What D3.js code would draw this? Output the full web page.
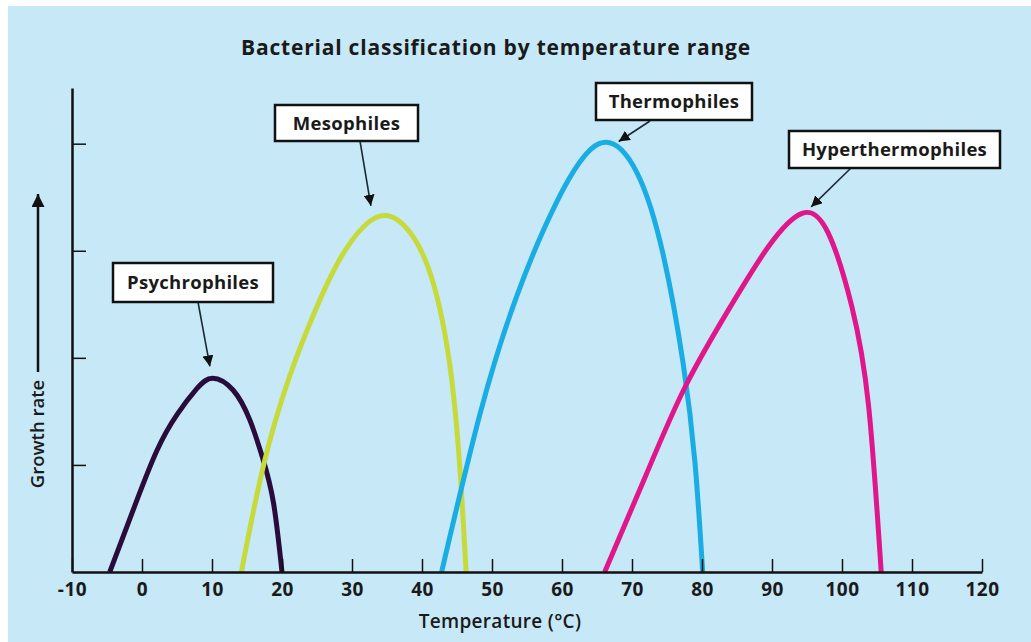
<!DOCTYPE html>
<html>
<head>
<meta charset="utf-8">
<script src="https://cdn.jsdelivr.net/npm/d3@7"></script>
<style>
  body { margin: 0; background: #ffffff; }
  text { font-family: "Open Sans", "Noto Sans", sans-serif; }
</style>
</head>
<body>
<div id="viz"></div>
<script>
// temperature (°C), relative growth rate
const psychrophiles = [[-4.6,0],[-1.2,0.59],[2.1,1.13],[5.0,1.47],[7.8,1.71],[10.1,1.81],[13.0,1.70],[15.4,1.42],[17.3,1.05],[18.8,0.64],[20.0,0]]
const mesophiles = [[14.2,0],[17.3,0.98],[21.1,1.83],[25.0,2.48],[28.8,2.98],[33.8,3.32],[38.3,3.17],[41.6,2.70],[44.0,1.92],[45.4,0.98],[46.3,0]]
const thermophiles = [[42.8,0],[48.3,1.48],[53.5,2.57],[59.2,3.45],[65.3,4.0],[70.7,3.73],[74.5,2.95],[77.3,1.95],[79.0,1.02],[80.1,0]]
const hyperthermophiles = [[66.1,0],[71.9,0.89],[77.6,1.73],[83.8,2.45],[89.5,3.04],[94.3,3.35],[98.0,3.17],[101.4,2.48],[103.8,1.55],[105.6,0]]

const seriesNames = ["Psychrophiles", "Mesophiles", "Thermophiles", "Hyperthermophiles"]
const seriesColors = ["#2a0c3c", "#c6da3c", "#19ade4", "#e0168b"]
const xTicks = [-10, 0, 10, 20, 30, 40, 50, 60, 70, 80, 90, 100, 110, 120]
const yTicks = [1, 2, 3, 4]

const width = 1031
const height = 642

const svg = d3.select("#viz").append("svg")
  .attr("width", width)
  .attr("height", height)

svg.append("rect")
  .attr("x", 8).attr("y", 6)
  .attr("width", width - 8).attr("height", height - 6)
  .attr("fill", "#c6e8f7")

const x = d3.scaleLinear().domain([-10, 120]).range([72, 982])
const y = d3.scaleLinear().domain([0, 4.52]).range([572, 88])

// title
svg.append("text")
  .attr("x", 496).attr("y", 55)
  .attr("text-anchor", "middle")
  .attr("font-size", 21)
  .attr("font-weight", 700)
  .attr("letter-spacing", 0.8)
  .attr("fill", "#1a1a1a")
  .text("Bacterial classification by temperature range")

// curves
const line = d3.line()
  .x(d => x(d[0]))
  .y(d => y(d[1]))
  .curve(d3.curveNatural)

const allSeries = [psychrophiles, mesophiles, thermophiles, hyperthermophiles]

svg.selectAll("path.curve")
  .data(allSeries)
  .enter()
  .append("path")
  .attr("class", "curve")
  .attr("d", d => line(d))
  .attr("fill", "none")
  .attr("stroke", (d, i) => seriesColors[i])
  .attr("stroke-width", 5)

// axes
const xAxis = svg.append("g")
  .attr("transform", "translate(0," + y(0) + ")")
  .call(d3.axisBottom(x).tickValues(xTicks).tickSizeInner(-13).tickSizeOuter(0).tickPadding(11).tickFormat(d3.format("d")))

xAxis.select(".domain").attr("stroke", "#111").attr("stroke-width", 2.5)
xAxis.selectAll(".tick line").attr("stroke", "#111").attr("stroke-width", 1.5)
xAxis.selectAll(".tick text")
  .attr("font-size", 19)
  .attr("font-weight", 700)
  .attr("letter-spacing", 0.5)
  .attr("fill", "#1a1a1a")
  .attr("font-family", "'Open Sans', sans-serif")
  .text(d => d < 0 ? "-" + Math.abs(d) : d)

const yAxis = svg.append("g")
  .attr("transform", "translate(" + x(-10) + ",0)")
  .call(d3.axisLeft(y).tickValues(yTicks).tickSizeInner(-14).tickSizeOuter(0).tickFormat(""))

yAxis.select(".domain").attr("stroke", "#111").attr("stroke-width", 2.5)
yAxis.selectAll(".tick line").attr("stroke", "#111").attr("stroke-width", 1.5)

// axis titles
svg.append("text")
  .attr("x", 500).attr("y", 628)
  .attr("text-anchor", "middle")
  .attr("font-size", 19)
  .attr("font-weight", 600)
  .attr("letter-spacing", 0.3)
  .attr("fill", "#1a1a1a")
  .text("Temperature (°C)")

const defs = svg.append("defs")
defs.append("marker")
  .attr("id", "head")
  .attr("viewBox", "0 0 10 10")
  .attr("refX", 10).attr("refY", 5)
  .attr("markerWidth", 11).attr("markerHeight", 11)
  .attr("markerUnits", "userSpaceOnUse")
  .attr("orient", "auto")
  .append("path")
  .attr("d", "M0,0 L10,5 L0,10 Z")
  .attr("fill", "#111")

defs.append("marker")
  .attr("id", "bighead")
  .attr("viewBox", "0 0 10 10")
  .attr("refX", 10).attr("refY", 5)
  .attr("markerWidth", 13).attr("markerHeight", 13)
  .attr("markerUnits", "userSpaceOnUse")
  .attr("orient", "auto")
  .append("path")
  .attr("d", "M0,0 L10,5 L0,10 Z")
  .attr("fill", "#111")

svg.append("text")
  .attr("transform", "translate(44,434) rotate(-90)")
  .attr("text-anchor", "middle")
  .attr("font-size", 18.5)
  .attr("font-weight", 600)
  .attr("fill", "#1a1a1a")
  .text("Growth rate")

svg.append("line")
  .attr("x1", 38).attr("y1", 372)
  .attr("x2", 38).attr("y2", 194)
  .attr("stroke", "#111").attr("stroke-width", 2.5)
  .attr("marker-end", "url(#bighead)")

// labels with arrows: box corners in pixels, arrow tip in data units
const boxes = [[113, 263, 273, 302], [275, 105, 418, 141], [596, 83, 752, 120], [789, 131, 1000, 168]]
const arrowStarts = [[198, 302], [360, 141], [650, 121], [851, 168]]
const arrowTips = [[9.7, 1.92], [32.7, 3.42], [68.1, 4.02], [95.6, 3.41]]

const labels = svg.selectAll("g.label")
  .data(seriesNames)
  .enter()
  .append("g")
  .attr("class", "label")

labels.append("line")
  .attr("x1", (d, i) => arrowStarts[i][0])
  .attr("y1", (d, i) => arrowStarts[i][1])
  .attr("x2", (d, i) => x(arrowTips[i][0]))
  .attr("y2", (d, i) => y(arrowTips[i][1]))
  .attr("stroke", "#1c2a36")
  .attr("stroke-width", 1.6)
  .attr("marker-end", "url(#head)")

labels.append("rect")
  .attr("x", (d, i) => boxes[i][0])
  .attr("y", (d, i) => boxes[i][1])
  .attr("width", (d, i) => boxes[i][2] - boxes[i][0])
  .attr("height", (d, i) => boxes[i][3] - boxes[i][1])
  .attr("fill", "#fff")
  .attr("stroke", "#111")
  .attr("stroke-width", 2.5)

labels.append("text")
  .attr("x", (d, i) => (boxes[i][0] + boxes[i][2]) / 2)
  .attr("y", (d, i) => (boxes[i][1] + boxes[i][3]) / 2 + 6.5)
  .attr("text-anchor", "middle")
  .attr("font-size", 18.5)
  .attr("font-weight", 700)
  .attr("letter-spacing", 0.3)
  .attr("fill", "#1a1a1a")
  .text(d => d)
</script>
</body>
</html>
